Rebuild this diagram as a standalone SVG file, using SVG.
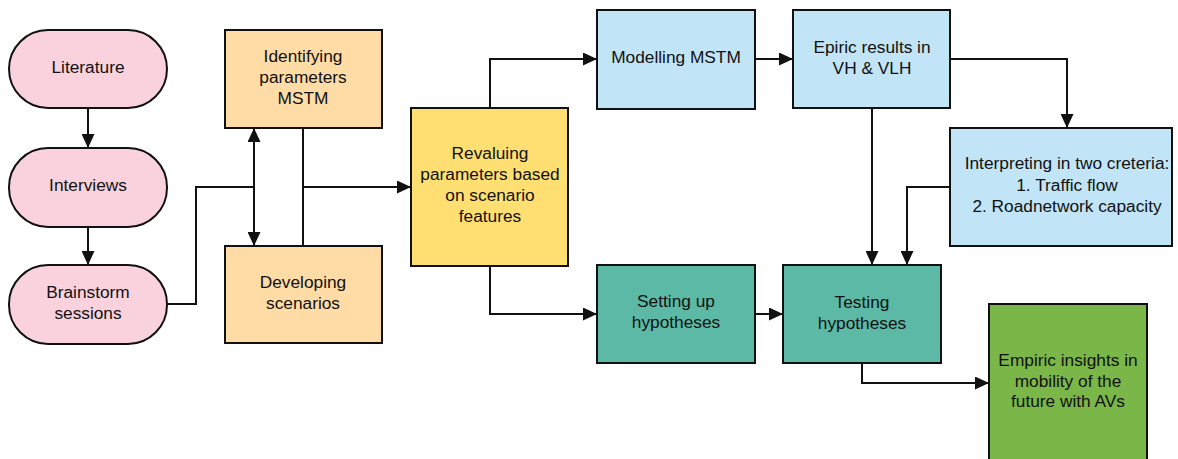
<svg xmlns="http://www.w3.org/2000/svg" width="1178" height="459" viewBox="0 0 1178 459">
<style>
text{font-family:"Liberation Sans",Arial,sans-serif;font-size:17.3px;fill:#111;text-anchor:middle}
.n{stroke:#111;stroke-width:2}
.pink{fill:#F9D2DE}.orange{fill:#FFDBA6}.yellow{fill:#FFDF71}.blue{fill:#C1E4F7}.teal{fill:#5BB9A6}.green{fill:#7AB648}
.c{fill:none;stroke:#111;stroke-width:2}
.a{marker-end:url(#ah)}
</style>
<defs>
<marker id="ah" markerUnits="userSpaceOnUse" markerWidth="15" markerHeight="13" refX="14" refY="6.5" orient="auto-start-reverse">
<path d="M0,0 L14,6.5 L0,13 z" fill="#111"/>
</marker>
</defs>
<rect width="1178" height="459" fill="#fff"/>
<g id="connectors">
<path class="c a" d="M88,108 V148"/>
<path class="c a" d="M88,227 V265"/>
<path class="c" d="M167,304 H196 V187 H254"/>
<path class="c a" d="M254,128 V246" marker-start="url(#ah)"/>
<path class="c" d="M303,128 V246"/>
<path class="c a" d="M303,187 H411"/>
<path class="c a" d="M490,108 V59 H597"/>
<path class="c a" d="M490,266 V314 H597"/>
<path class="c a" d="M755,59 H793"/>
<path class="c a" d="M950,59 H1067 V128"/>
<path class="c a" d="M872,108 V265"/>
<path class="c a" d="M950,187 H907 V265"/>
<path class="c a" d="M755,314 H783"/>
<path class="c a" d="M862,363 V383 H989"/>
</g>
<g id="literature"><rect class="n pink" x="9" y="30" width="158" height="78" rx="39"/><text x="88" y="73">Literature</text></g>
<g id="interviews"><rect class="n pink" x="9" y="148" width="158" height="79" rx="39"/><text x="88" y="191">Interviews</text></g>
<g id="brainstorm"><rect class="n pink" x="9" y="265" width="158" height="79" rx="39"/><text x="88" y="298">Brainstorm</text><text x="88" y="319">sessions</text></g>
<g id="identifying"><rect class="n orange" x="225" y="30" width="157" height="98"/><text x="303" y="62">Identifying</text><text x="303" y="83">parameters</text><text x="303" y="104">MSTM</text></g>
<g id="developing"><rect class="n orange" x="225" y="246" width="157" height="97"/><text x="303" y="288">Developing</text><text x="303" y="309">scenarios</text></g>
<g id="revaluing"><rect class="n yellow" x="411" y="108" width="157" height="158"/><text x="490" y="159">Revaluing</text><text x="490" y="180">parameters based</text><text x="490" y="201">on scenario</text><text x="490" y="222">features</text></g>
<g id="modelling"><rect class="n blue" x="597" y="10" width="158" height="99"/><text x="676" y="63">Modelling MSTM</text></g>
<g id="setting"><rect class="n teal" x="597" y="265" width="158" height="98"/><text x="676" y="307">Setting up</text><text x="676" y="328">hypotheses</text></g>
<g id="epiric"><rect class="n blue" x="793" y="10" width="157" height="98"/><text x="872" y="53">Epiric results in</text><text x="872" y="74">VH &amp; VLH</text></g>
<g id="interpreting"><rect class="n blue" x="950" y="128" width="222" height="118"/><text x="1067" y="169">Interpreting in two creteria:</text><text x="1067" y="191">1. Traffic flow</text><text x="1067" y="212">2. Roadnetwork capacity</text></g>
<g id="testing"><rect class="n teal" x="783" y="265" width="158" height="98"/><text x="862" y="308">Testing</text><text x="862" y="329">hypotheses</text></g>
<g id="empiric"><rect class="n green" x="989" y="304" width="158" height="170"/><text x="1068" y="366">Empiric insights in</text><text x="1068" y="387">mobility of the</text><text x="1068" y="407">future with AVs</text></g>
</svg>
